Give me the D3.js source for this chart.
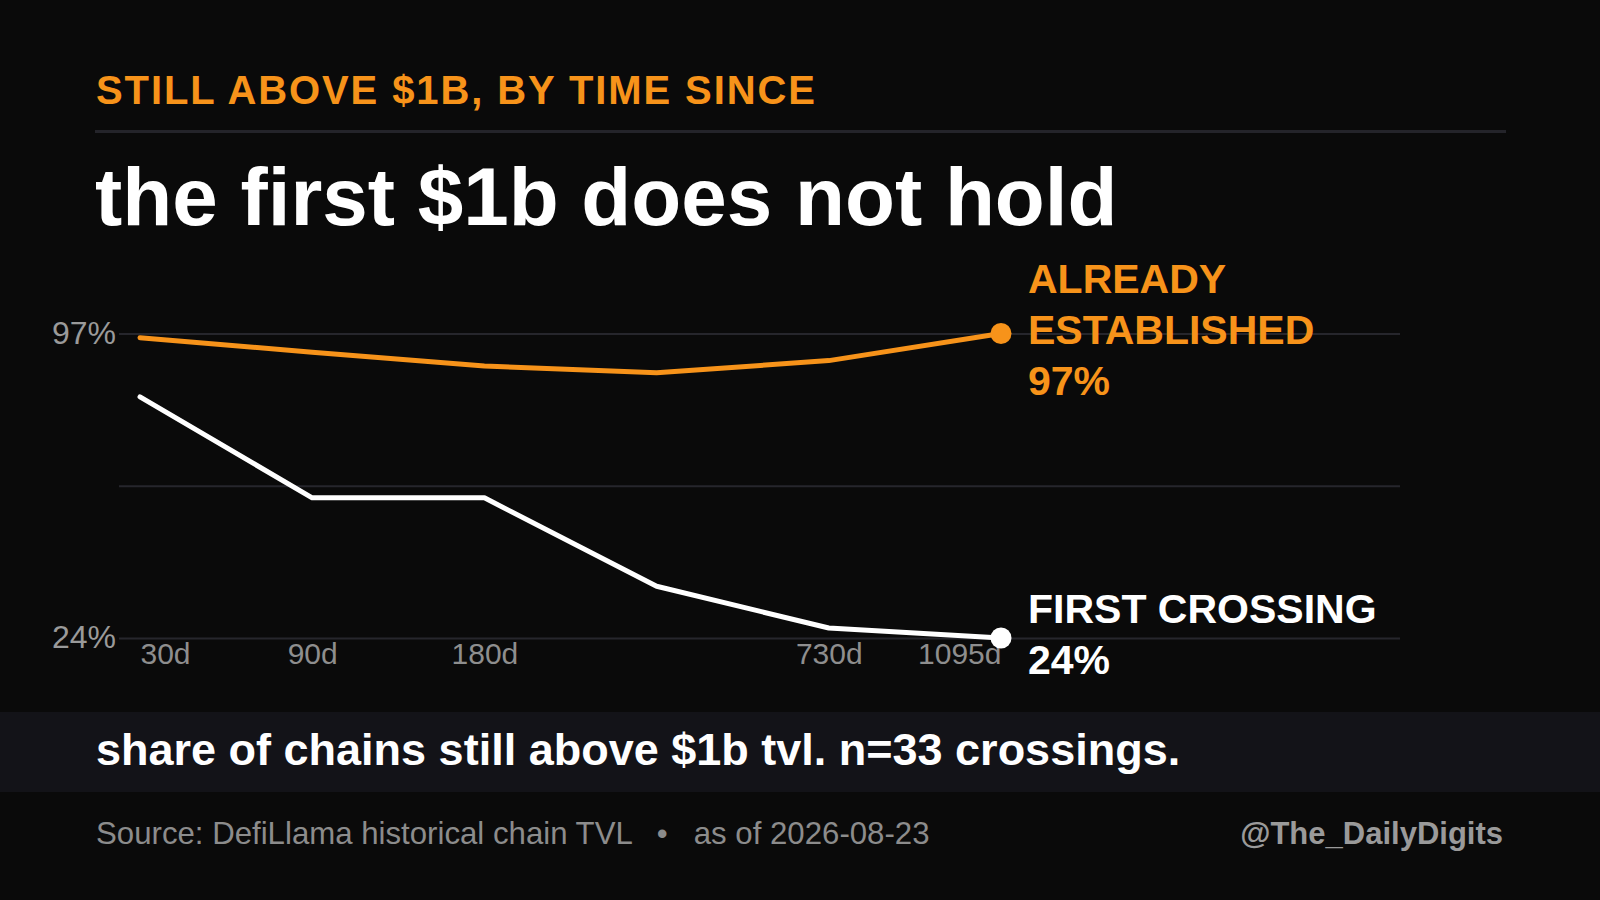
<!DOCTYPE html>
<html>
<head>
<meta charset="utf-8">
<script src="https://cdn.jsdelivr.net/npm/d3@7"></script>
<style>
  html, body { margin: 0; padding: 0; background: #0a0a0a; }
  svg { display: block; font-family: "Liberation Sans", Arial, Helvetica, sans-serif; }
</style>
</head>
<body>
<div id="container"></div>
<script>
/* CONSTANTS AND GLOBALS */
const width = 1600,
  height = 900,
  margin = { left: 96, right: 96 },
  orange = "#f7931a";

/* DATA */
const periods = ["30d", "90d", "180d", "365d", "730d", "1095d"];
const periodLabels = ["30d", "90d", "180d", "", "730d", "1095d"];
const establishedShare = [96, 92.5, 89.2, 87.6, 90.5, 97];
const firstCrossingShare = [81.8, 57.6, 57.6, 36.4, 26.4, 24];
const yTicks = [24, 60.5, 97];
const yTickLabels = ["24%", "", "97%"];

const seriesList = [
  { key: "established", values: establishedShare, color: orange, label: ["ALREADY", "ESTABLISHED", "97%"] },
  { key: "first", values: firstCrossingShare, color: "#ffffff", label: ["FIRST CROSSING", "24%"] }
];

/* SCALES */
const xScale = d3.scalePoint()
  .domain(periods)
  .range([140, 1001]);

const yScale = d3.scaleLinear()
  .domain([24, 97])
  .range([638, 333.5]);

/* SVG */
const svg = d3.select("#container")
  .append("svg")
  .attr("width", width)
  .attr("height", height);

svg.append("rect")
  .attr("width", width)
  .attr("height", height)
  .attr("fill", "#0a0a0a");

// kicker + rule + title
svg.append("text")
  .attr("x", margin.left)
  .attr("y", 104)
  .attr("fill", orange)
  .style("font-size", "40px")
  .style("font-weight", 700)
  .style("letter-spacing", "1.9px")
  .text("STILL ABOVE $1B, BY TIME SINCE");

svg.append("line")
  .attr("x1", 95)
  .attr("x2", 1506)
  .attr("y1", 131.5)
  .attr("y2", 131.5)
  .attr("stroke", "#24242a")
  .attr("stroke-width", 3);

svg.append("text")
  .attr("x", margin.left - 1)
  .attr("y", 225)
  .attr("fill", "#ffffff")
  .style("font-size", "81.8px")
  .style("font-weight", 700)
  .text("the first $1b does not hold");

/* GRID + AXES */
const yAxis = d3.axisLeft(yScale)
  .tickValues(yTicks)
  .tickSize(-(1400 - 119))
  .tickPadding(3)
  .tickFormat((d, i) => yTickLabels[i]);

const gy = svg.append("g")
  .attr("transform", "translate(119,0)")
  .call(yAxis);
gy.select(".domain").remove();
gy.selectAll(".tick line")
  .attr("stroke", "#26262c")
  .attr("stroke-width", 2);
gy.selectAll(".tick text")
  .attr("fill", "#9a9a9a")
  .attr("dy", "0.3em")
  .style("font-size", "32px")
  .style("font-family", "'Liberation Sans', Arial, sans-serif");

const xAxis = d3.axisBottom(xScale)
  .tickSize(0)
  .tickPadding(0)
  .tickFormat((d, i) => periodLabels[i]);

const gx = svg.append("g")
  .attr("transform", "translate(0,654)")
  .call(xAxis);
gx.select(".domain").remove();
gx.selectAll(".tick text")
  .attr("fill", "#8e8e8e")
  .attr("dy", "0.32em")
  .style("font-size", "30px")
  .style("font-family", "'Liberation Sans', Arial, sans-serif")
  .attr("text-anchor", (d, i) => i === 0 ? "start" : (i === periods.length - 1 ? "end" : "middle"));

/* LINES */
const line = d3.line()
  .x((d, i) => xScale(periods[i]))
  .y(d => yScale(d));

svg.selectAll(".series")
  .data(seriesList)
  .join("path")
  .attr("class", "series")
  .attr("d", d => line(d.values))
  .attr("fill", "none")
  .attr("stroke", d => d.color)
  .attr("stroke-width", 5)
  .attr("stroke-linejoin", "round")
  .attr("stroke-linecap", "round");

// end dots
const last = periods.length - 1;
svg.selectAll(".end-dot")
  .data(seriesList)
  .join("circle")
  .attr("class", "end-dot")
  .attr("cx", xScale(periods[last]))
  .attr("cy", d => yScale(d.values[last]))
  .attr("r", 10.5)
  .attr("fill", d => d.color);

// end labels, block centred on the last point
const lineGap = 51;
svg.selectAll(".end-label")
  .data(seriesList)
  .join("text")
  .attr("class", "end-label")
  .attr("fill", d => d.color)
  .style("font-size", "41px")
  .style("font-weight", 700)
  .each(function (d) {
    const cy = yScale(d.values[last]);
    const top = cy - (d.label.length - 1) * lineGap / 2;
    d3.select(this).selectAll("tspan")
      .data(d.label)
      .join("tspan")
      .attr("x", xScale(periods[last]) + 27)
      .attr("y", (t, i) => top + i * lineGap + 10)
      .text(t => t);
  });

/* NOTE BAND */
svg.append("rect")
  .attr("x", 0)
  .attr("y", 712)
  .attr("width", width)
  .attr("height", 80)
  .attr("fill", "#131318");

svg.append("text")
  .attr("x", margin.left)
  .attr("y", 765)
  .attr("fill", "#ffffff")
  .style("font-size", "45px")
  .style("font-weight", 700)
  .text("share of chains still above $1b tvl. n=33 crossings.");

/* FOOTER */
const foot = svg.append("text")
  .attr("x", margin.left)
  .attr("y", 844)
  .attr("fill", "#8c8c8c")
  .style("font-size", "31.2px");
foot.append("tspan").text("Source: DefiLlama historical chain TVL");
foot.append("tspan").attr("dx", 24).text("•");
foot.append("tspan").attr("dx", 26).text("as of 2026-08-23");

svg.append("text")
  .attr("x", 1503)
  .attr("y", 844)
  .attr("text-anchor", "end")
  .attr("fill", "#9a9a9a")
  .style("font-size", "31px")
  .style("font-weight", 700)
  .text("@The_DailyDigits");
</script>
</body>
</html>
